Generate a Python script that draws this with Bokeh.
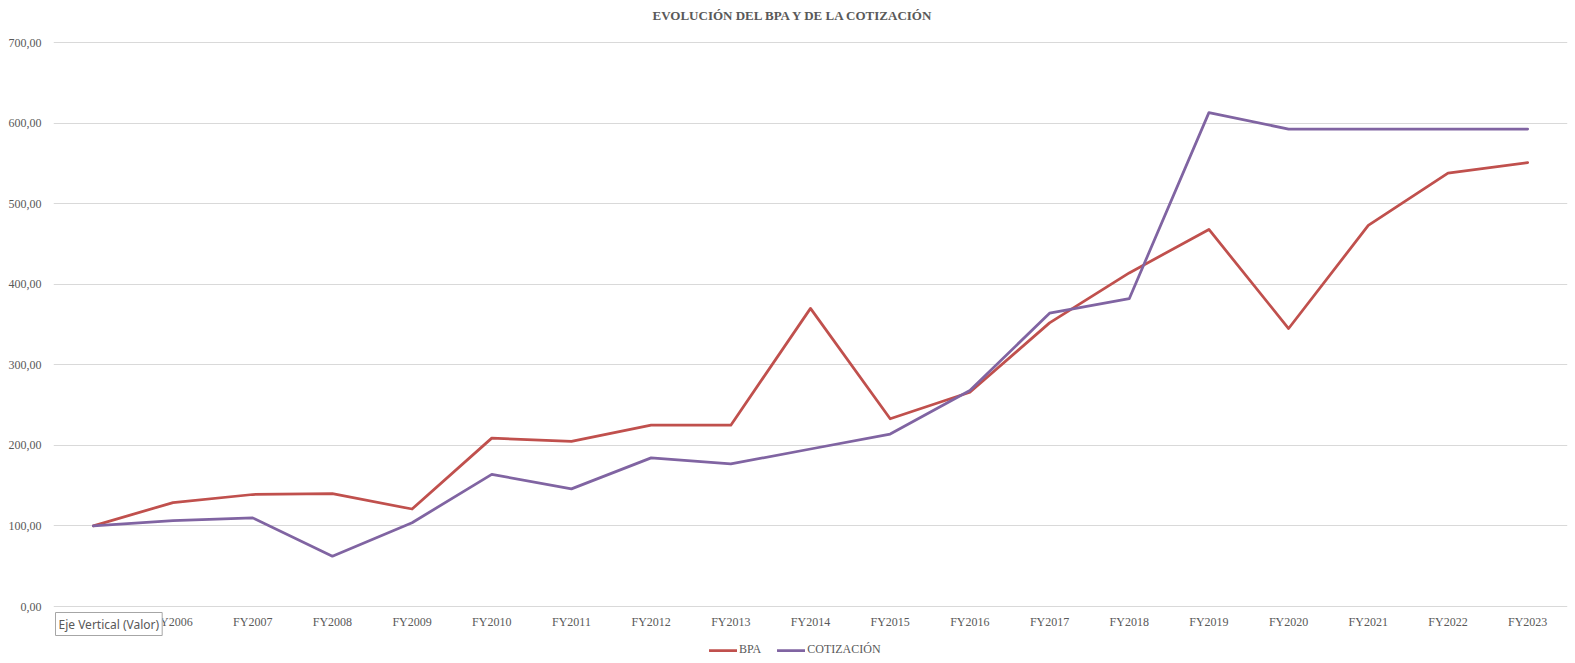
from bokeh.plotting import figure
from bokeh.models import (ColumnDataSource, FactorRange, Range1d, FixedTicker, Legend,
                          LegendItem, Label)
from bokeh.core.properties import value
from bokeh.embed import file_html
from bokeh.resources import INLINE

years = ["FY2005", "FY2006", "FY2007", "FY2008", "FY2009", "FY2010", "FY2011", "FY2012",
         "FY2013", "FY2014", "FY2015", "FY2016", "FY2017", "FY2018", "FY2019", "FY2020",
         "FY2021", "FY2022", "FY2023"]
bpa = [100, 129, 139, 140, 121, 209, 205, 225, 225, 370, 233, 266, 352, 414, 468, 345,
       473, 538, 551]
cotizacion = [100, 106.5, 110, 62.5, 104, 164, 146, 184.5, 177, 195.5, 214, 268, 364, 382,
              613, 592.5, 592.5, 592.5, 592.5]
y_ticks = [0, 100, 200, 300, 400, 500, 600, 700]
y_tick_labels = ["0,00", "100,00", "200,00", "300,00", "400,00", "500,00", "600,00", "700,00"]

title_text = "EVOLUCIÓN DEL BPA Y DE LA COTIZACIÓN"
tooltip_text = "Eje Vertical (Valor)"

FONT = "Liberation Serif"
GREY = "#595959"

W, H = 1572, 660
# value axis: 0 sits 606px and 700 sits 42px from the top of the canvas
px_per_unit = (606 - 42) / 700
y_lo = -(H - 606) / px_per_unit
y_hi = 700 + 42 / px_per_unit

src = ColumnDataSource(dict(year=years, bpa=bpa, cot=cotizacion,
                            zero=[0] * len(years)))

p = figure(width=W, height=H, output_backend="svg", toolbar_location=None,
           x_range=FactorRange(*years, range_padding=0),
           y_range=Range1d(y_lo, y_hi), x_axis_location=None,
           min_border_left=53, min_border_right=5, min_border_top=0, min_border_bottom=0)

r1 = p.line("year", "bpa", source=src, line_color="#C0504D", line_width=2.75,
            line_join="round", line_cap="round")
r2 = p.line("year", "cot", source=src, line_color="#8064A2", line_width=2.75,
            line_join="round", line_cap="round")

# category labels under the value-axis baseline
p.text(x="year", y="zero", text="year", source=src, y_offset=15,
       text_align="center", text_baseline="middle", text_font=value(FONT),
       text_font_size="12px", text_color=GREY)

p.outline_line_color = None
p.background_fill_color = "white"
p.border_fill_color = "white"

p.xgrid.grid_line_color = None
p.ygrid.grid_line_color = "#D9D9D9"
p.ygrid.grid_line_width = 1

p.yaxis.ticker = FixedTicker(ticks=y_ticks)
p.yaxis.major_label_overrides = {t: s for t, s in zip(y_ticks, y_tick_labels)}
ax = p.yaxis[0]
ax.axis_line_color = None
ax.major_tick_line_color = None
ax.minor_tick_line_color = None
ax.major_tick_out = 0
ax.major_tick_in = 0
ax.major_label_text_font = FONT
ax.major_label_text_font_size = "12px"
ax.major_label_text_color = GREY
ax.major_label_standoff = 12

title = Label(x=740, y=H - 15, x_units="screen", y_units="screen", text=title_text,
              text_align="center", text_baseline="middle", text_font=FONT,
              text_font_size="13px", text_font_style="bold", text_color=GREY)
p.add_layout(title)

legend = Legend(items=[LegendItem(label="BPA", renderers=[r1]),
                       LegendItem(label="COTIZACIÓN", renderers=[r2])],
                orientation="horizontal", location=(656, 3),
                label_text_font=FONT, label_text_font_size="12px", label_text_color=GREY,
                glyph_width=28, glyph_height=12, label_standoff=2, spacing=16,
                padding=2, margin=0, border_line_color=None, background_fill_alpha=0)
p.add_layout(legend)

tip = Label(x=2, y=25, x_units="screen", y_units="screen", text=tooltip_text,
            text_font="Noto Sans", text_font_size="12px",
            text_color=GREY, background_fill_color="white", border_line_color="#A6A6A6",
            padding=3, level="overlay")
p.add_layout(tip)

open("out.html", "w").write(file_html(p, INLINE))
